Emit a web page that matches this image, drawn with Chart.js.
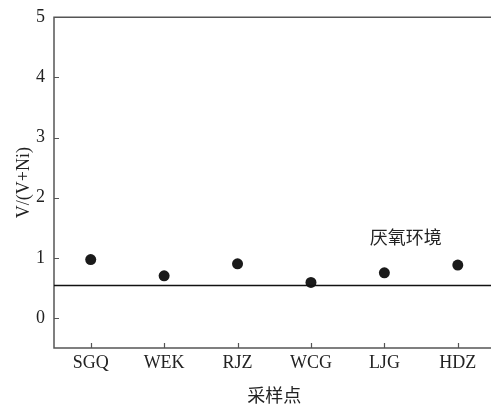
<!DOCTYPE html>
<html><head><meta charset="utf-8">
<script src="https://cdn.jsdelivr.net/npm/chart.js@4/dist/chart.umd.min.js"></script>
<style>
html,body{margin:0;padding:0;background:#fff;overflow:hidden;width:491px;height:406px;}
#wrap{width:491px;height:406px;position:relative;overflow:hidden;}
canvas{display:block;position:absolute;left:0;top:0;}
</style></head>
<body>
<div id="wrap"><canvas id="c" width="500" height="406" style="width:500px;height:406px"></canvas></div>
<script>
const categories = ["SGQ","WEK","RJZ","WCG","LJG","HDZ"];
const ratioValues = [0.97, 0.70, 0.90, 0.59, 0.75, 0.88];
const yTicks = [0, 1, 2, 3, 4, 5];
const thresholdValue = [0.54];
const annotationText = ["厌氧环境"];

const serif = "'Liberation Serif','Times New Roman',serif";
const axisColor = '#555';

const framePlugin = {
  id: 'frame',
  afterDraw(chart) {
    const ctx = chart.ctx, a = chart.chartArea;
    const xs = chart.scales.x, ys = chart.scales.y;
    const W = chart.width;
    ctx.save();
    ctx.strokeStyle = axisColor;
    ctx.lineWidth = 1.5;
    ctx.beginPath();
    ctx.moveTo(W, a.top); ctx.lineTo(a.left, a.top); ctx.lineTo(a.left, a.bottom); ctx.lineTo(W, a.bottom);
    ctx.stroke();
    ctx.lineWidth = 1.2;
    ctx.beginPath();
    yTicks.forEach(v => {
      const py = Math.round(ys.getPixelForValue(v)) + 0.5;
      ctx.moveTo(a.left, py); ctx.lineTo(a.left + 5, py);
    });
    categories.forEach((c, i) => {
      const px = Math.round(xs.getPixelForValue(i)) + 0.5;
      ctx.moveTo(px, a.bottom); ctx.lineTo(px, a.bottom - 5);
    });
    ctx.stroke();
    ctx.strokeStyle = '#111';
    ctx.lineWidth = 1.5;
    const ty = ys.getPixelForValue(thresholdValue[0]);
    ctx.beginPath();
    ctx.moveTo(a.left, ty); ctx.lineTo(W, ty);
    ctx.stroke();
    const p4 = xs.getPixelForValue(4), p5 = xs.getPixelForValue(5);
    ctx.fillStyle = '#222';
    ctx.font = "18px 'Noto Sans CJK SC'";
    ctx.textAlign = 'center';
    ctx.textBaseline = 'middle';
    ctx.fillText(annotationText[0], p4 + (p5 - p4) * 0.29, ys.getPixelForValue(1.35));
    ctx.restore();
  }
};

new Chart(document.getElementById('c'), {
  type: 'line',
  data: {
    labels: categories,
    datasets: [{
      data: ratioValues,
      showLine: false,
      pointRadius: 5.5,
      pointHoverRadius: 5.5,
      pointBackgroundColor: '#1a1a1a',
      pointBorderColor: '#1a1a1a',
      pointBorderWidth: 0
    }]
  },
  options: {
    responsive: false,
    maintainAspectRatio: false,
    animation: false,
    devicePixelRatio: 1,
    events: [],
    layout: { padding: { top: 17.3, right: 2, left: 0, bottom: 0 } },
    plugins: { legend: { display: false }, tooltip: { enabled: false } },
    scales: {
      x: {
        type: 'category',
        offset: true,
        grid: { display: false, drawTicks: false },
        border: { display: false },
        ticks: { color: '#222', font: { family: serif, size: 18 }, padding: 4, maxRotation: 0, autoSkip: false },
        title: { display: true, text: '采样点', color: '#222', font: { family: "'Noto Sans CJK SC'", size: 18 }, padding: { top: 0, bottom: 0 } },
        afterFit(s) { s.height = 58; s.paddingLeft = 0; s.paddingRight = 0; }
      },
      y: {
        min: -0.5, max: 5,
        grid: { display: false, drawTicks: false },
        border: { display: false },
        afterBuildTicks(s) { s.ticks = yTicks.map(v => ({ value: v })); },
        ticks: { color: '#222', font: { family: serif, size: 18 }, padding: 9 },
        title: { display: true, text: 'V/(V+Ni)', color: '#222', font: { family: serif, size: 18 }, padding: { top: 13, bottom: 0 } },
        afterFit(s) { s.width = 54; s.paddingTop = 0; s.paddingBottom = 0; }
      }
    }
  },
  plugins: [framePlugin]
});
</script>
</body></html>
